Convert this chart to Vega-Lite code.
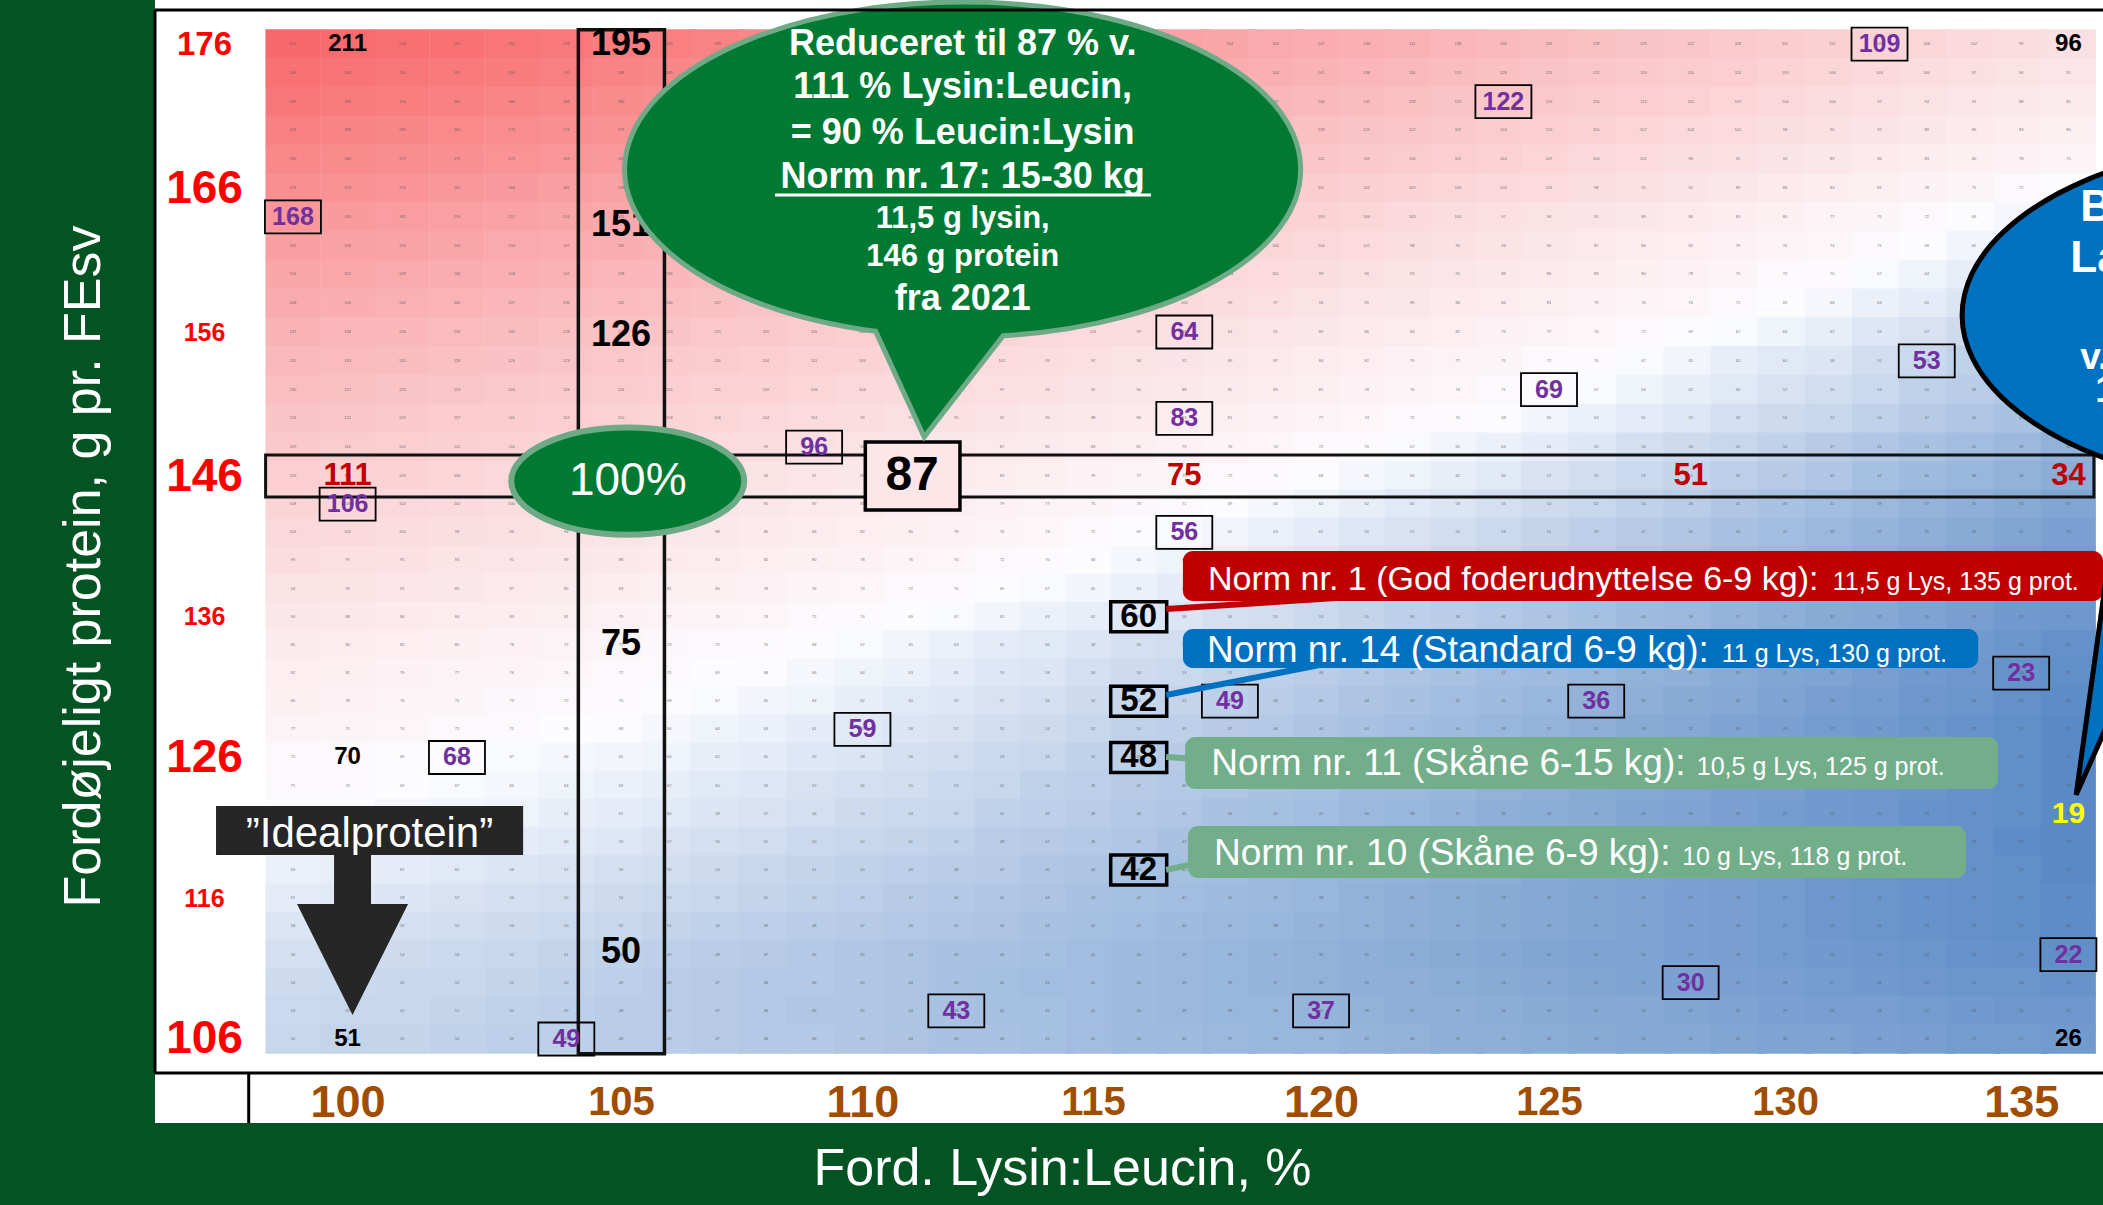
{
"$schema":"https://vega.github.io/schema/vega-lite/v6.json",
"width":1948,"height":1123,"autosize":"none",
"padding":{"left":155,"top":0,"right":0,"bottom":82},
"background":"#045423",
"config":{"view":{"fill":"white","stroke":null},"font":"Liberation Sans"},
"datasets":{
"cells":[
{"l":99,"p":176,"v":214},{"l":100,"p":176,"v":211},{"l":101,"p":176,"v":208},{"l":102,"p":176,"v":205},{"l":103,"p":176,"v":201},{"l":104,"p":176,"v":198},{"l":105,"p":176,"v":195},{"l":106,"p":176,"v":192},{"l":107,"p":176,"v":189},{"l":108,"p":176,"v":185},{"l":109,"p":176,"v":182},{"l":110,"p":176,"v":179},{"l":111,"p":176,"v":176},{"l":112,"p":176,"v":173},{"l":113,"p":176,"v":170},{"l":114,"p":176,"v":166},{"l":115,"p":176,"v":163},{"l":116,"p":176,"v":160},{"l":117,"p":176,"v":157},{"l":118,"p":176,"v":154},{"l":119,"p":176,"v":150},{"l":120,"p":176,"v":147},{"l":121,"p":176,"v":144},{"l":122,"p":176,"v":141},{"l":123,"p":176,"v":138},{"l":124,"p":176,"v":134},{"l":125,"p":176,"v":131},{"l":126,"p":176,"v":128},{"l":127,"p":176,"v":125},{"l":128,"p":176,"v":122},{"l":129,"p":176,"v":118},{"l":130,"p":176,"v":115},{"l":131,"p":176,"v":112},{"l":132,"p":176,"v":109},{"l":133,"p":176,"v":106},{"l":134,"p":176,"v":102},{"l":135,"p":176,"v":99},{"l":136,"p":176,"v":96},
{"l":99,"p":174,"v":206},{"l":100,"p":174,"v":203},{"l":101,"p":174,"v":200},{"l":102,"p":174,"v":197},{"l":103,"p":174,"v":194},{"l":104,"p":174,"v":191},{"l":105,"p":174,"v":188},{"l":106,"p":174,"v":185},{"l":107,"p":174,"v":181},{"l":108,"p":174,"v":178},{"l":109,"p":174,"v":175},{"l":110,"p":174,"v":172},{"l":111,"p":174,"v":169},{"l":112,"p":174,"v":166},{"l":113,"p":174,"v":163},{"l":114,"p":174,"v":160},{"l":115,"p":174,"v":156},{"l":116,"p":174,"v":153},{"l":117,"p":174,"v":150},{"l":118,"p":174,"v":147},{"l":119,"p":174,"v":144},{"l":120,"p":174,"v":141},{"l":121,"p":174,"v":138},{"l":122,"p":174,"v":134},{"l":123,"p":174,"v":131},{"l":124,"p":174,"v":128},{"l":125,"p":174,"v":125},{"l":126,"p":174,"v":122},{"l":127,"p":174,"v":119},{"l":128,"p":174,"v":116},{"l":129,"p":174,"v":113},{"l":130,"p":174,"v":109},{"l":131,"p":174,"v":106},{"l":132,"p":174,"v":103},{"l":133,"p":174,"v":100},{"l":134,"p":174,"v":97},{"l":135,"p":174,"v":94},{"l":136,"p":174,"v":91},
{"l":99,"p":172,"v":199},{"l":100,"p":172,"v":196},{"l":101,"p":172,"v":193},{"l":102,"p":172,"v":190},{"l":103,"p":172,"v":186},{"l":104,"p":172,"v":183},{"l":105,"p":172,"v":180},{"l":106,"p":172,"v":177},{"l":107,"p":172,"v":174},{"l":108,"p":172,"v":171},{"l":109,"p":172,"v":168},{"l":110,"p":172,"v":165},{"l":111,"p":172,"v":162},{"l":112,"p":172,"v":159},{"l":113,"p":172,"v":156},{"l":114,"p":172,"v":153},{"l":115,"p":172,"v":150},{"l":116,"p":172,"v":147},{"l":117,"p":172,"v":143},{"l":118,"p":172,"v":140},{"l":119,"p":172,"v":137},{"l":120,"p":172,"v":134},{"l":121,"p":172,"v":131},{"l":122,"p":172,"v":128},{"l":123,"p":172,"v":125},{"l":124,"p":172,"v":122},{"l":125,"p":172,"v":119},{"l":126,"p":172,"v":116},{"l":127,"p":172,"v":113},{"l":128,"p":172,"v":110},{"l":129,"p":172,"v":107},{"l":130,"p":172,"v":104},{"l":131,"p":172,"v":100},{"l":132,"p":172,"v":97},{"l":133,"p":172,"v":94},{"l":134,"p":172,"v":91},{"l":135,"p":172,"v":88},{"l":136,"p":172,"v":85},
{"l":99,"p":170,"v":191},{"l":100,"p":170,"v":188},{"l":101,"p":170,"v":185},{"l":102,"p":170,"v":182},{"l":103,"p":170,"v":179},{"l":104,"p":170,"v":176},{"l":105,"p":170,"v":173},{"l":106,"p":170,"v":170},{"l":107,"p":170,"v":167},{"l":108,"p":170,"v":164},{"l":109,"p":170,"v":161},{"l":110,"p":170,"v":158},{"l":111,"p":170,"v":155},{"l":112,"p":170,"v":152},{"l":113,"p":170,"v":149},{"l":114,"p":170,"v":146},{"l":115,"p":170,"v":143},{"l":116,"p":170,"v":140},{"l":117,"p":170,"v":137},{"l":118,"p":170,"v":134},{"l":119,"p":170,"v":131},{"l":120,"p":170,"v":128},{"l":121,"p":170,"v":125},{"l":122,"p":170,"v":122},{"l":123,"p":170,"v":119},{"l":124,"p":170,"v":116},{"l":125,"p":170,"v":113},{"l":126,"p":170,"v":110},{"l":127,"p":170,"v":107},{"l":128,"p":170,"v":104},{"l":129,"p":170,"v":101},{"l":130,"p":170,"v":98},{"l":131,"p":170,"v":95},{"l":132,"p":170,"v":92},{"l":133,"p":170,"v":89},{"l":134,"p":170,"v":86},{"l":135,"p":170,"v":83},{"l":136,"p":170,"v":80},
{"l":99,"p":168,"v":183},{"l":100,"p":168,"v":180},{"l":101,"p":168,"v":177},{"l":102,"p":168,"v":175},{"l":103,"p":168,"v":172},{"l":104,"p":168,"v":169},{"l":105,"p":168,"v":166},{"l":106,"p":168,"v":163},{"l":107,"p":168,"v":160},{"l":108,"p":168,"v":157},{"l":109,"p":168,"v":154},{"l":110,"p":168,"v":151},{"l":111,"p":168,"v":148},{"l":112,"p":168,"v":145},{"l":113,"p":168,"v":142},{"l":114,"p":168,"v":139},{"l":115,"p":168,"v":136},{"l":116,"p":168,"v":133},{"l":117,"p":168,"v":130},{"l":118,"p":168,"v":127},{"l":119,"p":168,"v":125},{"l":120,"p":168,"v":122},{"l":121,"p":168,"v":119},{"l":122,"p":168,"v":116},{"l":123,"p":168,"v":113},{"l":124,"p":168,"v":110},{"l":125,"p":168,"v":107},{"l":126,"p":168,"v":104},{"l":127,"p":168,"v":101},{"l":128,"p":168,"v":98},{"l":129,"p":168,"v":95},{"l":130,"p":168,"v":92},{"l":131,"p":168,"v":89},{"l":132,"p":168,"v":86},{"l":133,"p":168,"v":83},{"l":134,"p":168,"v":80},{"l":135,"p":168,"v":78},{"l":136,"p":168,"v":75},
{"l":99,"p":166,"v":176},{"l":100,"p":166,"v":173},{"l":101,"p":166,"v":170},{"l":102,"p":166,"v":167},{"l":103,"p":166,"v":164},{"l":104,"p":166,"v":161},{"l":105,"p":166,"v":158},{"l":106,"p":166,"v":155},{"l":107,"p":166,"v":153},{"l":108,"p":166,"v":150},{"l":109,"p":166,"v":147},{"l":110,"p":166,"v":144},{"l":111,"p":166,"v":141},{"l":112,"p":166,"v":138},{"l":113,"p":166,"v":135},{"l":114,"p":166,"v":132},{"l":115,"p":166,"v":130},{"l":116,"p":166,"v":127},{"l":117,"p":166,"v":124},{"l":118,"p":166,"v":121},{"l":119,"p":166,"v":118},{"l":120,"p":166,"v":115},{"l":121,"p":166,"v":112},{"l":122,"p":166,"v":109},{"l":123,"p":166,"v":106},{"l":124,"p":166,"v":104},{"l":125,"p":166,"v":101},{"l":126,"p":166,"v":98},{"l":127,"p":166,"v":95},{"l":128,"p":166,"v":92},{"l":129,"p":166,"v":89},{"l":130,"p":166,"v":86},{"l":131,"p":166,"v":83},{"l":132,"p":166,"v":81},{"l":133,"p":166,"v":78},{"l":134,"p":166,"v":75},{"l":135,"p":166,"v":72},{"l":136,"p":166,"v":69},
{"l":99,"p":164,"v":168},{"l":100,"p":164,"v":165},{"l":101,"p":164,"v":162},{"l":102,"p":164,"v":159},{"l":103,"p":164,"v":157},{"l":104,"p":164,"v":154},{"l":105,"p":164,"v":151},{"l":106,"p":164,"v":148},{"l":107,"p":164,"v":145},{"l":108,"p":164,"v":143},{"l":109,"p":164,"v":140},{"l":110,"p":164,"v":137},{"l":111,"p":164,"v":134},{"l":112,"p":164,"v":131},{"l":113,"p":164,"v":128},{"l":114,"p":164,"v":126},{"l":115,"p":164,"v":123},{"l":116,"p":164,"v":120},{"l":117,"p":164,"v":117},{"l":118,"p":164,"v":114},{"l":119,"p":164,"v":111},{"l":120,"p":164,"v":109},{"l":121,"p":164,"v":106},{"l":122,"p":164,"v":103},{"l":123,"p":164,"v":100},{"l":124,"p":164,"v":97},{"l":125,"p":164,"v":94},{"l":126,"p":164,"v":92},{"l":127,"p":164,"v":89},{"l":128,"p":164,"v":86},{"l":129,"p":164,"v":83},{"l":130,"p":164,"v":80},{"l":131,"p":164,"v":77},{"l":132,"p":164,"v":75},{"l":133,"p":164,"v":72},{"l":134,"p":164,"v":69},{"l":135,"p":164,"v":66},{"l":136,"p":164,"v":63},
{"l":99,"p":162,"v":161},{"l":100,"p":162,"v":158},{"l":101,"p":162,"v":156},{"l":102,"p":162,"v":153},{"l":103,"p":162,"v":150},{"l":104,"p":162,"v":147},{"l":105,"p":162,"v":145},{"l":106,"p":162,"v":142},{"l":107,"p":162,"v":139},{"l":108,"p":162,"v":137},{"l":109,"p":162,"v":134},{"l":110,"p":162,"v":131},{"l":111,"p":162,"v":128},{"l":112,"p":162,"v":126},{"l":113,"p":162,"v":123},{"l":114,"p":162,"v":120},{"l":115,"p":162,"v":117},{"l":116,"p":162,"v":115},{"l":117,"p":162,"v":112},{"l":118,"p":162,"v":109},{"l":119,"p":162,"v":106},{"l":120,"p":162,"v":104},{"l":121,"p":162,"v":101},{"l":122,"p":162,"v":98},{"l":123,"p":162,"v":95},{"l":124,"p":162,"v":93},{"l":125,"p":162,"v":90},{"l":126,"p":162,"v":87},{"l":127,"p":162,"v":84},{"l":128,"p":162,"v":82},{"l":129,"p":162,"v":79},{"l":130,"p":162,"v":76},{"l":131,"p":162,"v":74},{"l":132,"p":162,"v":71},{"l":133,"p":162,"v":68},{"l":134,"p":162,"v":65},{"l":135,"p":162,"v":63},{"l":136,"p":162,"v":60},
{"l":99,"p":160,"v":154},{"l":100,"p":160,"v":152},{"l":101,"p":160,"v":149},{"l":102,"p":160,"v":146},{"l":103,"p":160,"v":144},{"l":104,"p":160,"v":141},{"l":105,"p":160,"v":138},{"l":106,"p":160,"v":136},{"l":107,"p":160,"v":133},{"l":108,"p":160,"v":131},{"l":109,"p":160,"v":128},{"l":110,"p":160,"v":125},{"l":111,"p":160,"v":123},{"l":112,"p":160,"v":120},{"l":113,"p":160,"v":117},{"l":114,"p":160,"v":115},{"l":115,"p":160,"v":112},{"l":116,"p":160,"v":109},{"l":117,"p":160,"v":107},{"l":118,"p":160,"v":104},{"l":119,"p":160,"v":101},{"l":120,"p":160,"v":99},{"l":121,"p":160,"v":96},{"l":122,"p":160,"v":93},{"l":123,"p":160,"v":91},{"l":124,"p":160,"v":88},{"l":125,"p":160,"v":86},{"l":126,"p":160,"v":83},{"l":127,"p":160,"v":80},{"l":128,"p":160,"v":78},{"l":129,"p":160,"v":75},{"l":130,"p":160,"v":72},{"l":131,"p":160,"v":70},{"l":132,"p":160,"v":67},{"l":133,"p":160,"v":64},{"l":134,"p":160,"v":62},{"l":135,"p":160,"v":59},{"l":136,"p":160,"v":56},
{"l":99,"p":158,"v":148},{"l":100,"p":158,"v":145},{"l":101,"p":158,"v":142},{"l":102,"p":158,"v":140},{"l":103,"p":158,"v":137},{"l":104,"p":158,"v":135},{"l":105,"p":158,"v":132},{"l":106,"p":158,"v":130},{"l":107,"p":158,"v":127},{"l":108,"p":158,"v":125},{"l":109,"p":158,"v":122},{"l":110,"p":158,"v":120},{"l":111,"p":158,"v":117},{"l":112,"p":158,"v":114},{"l":113,"p":158,"v":112},{"l":114,"p":158,"v":109},{"l":115,"p":158,"v":107},{"l":116,"p":158,"v":104},{"l":117,"p":158,"v":102},{"l":118,"p":158,"v":99},{"l":119,"p":158,"v":97},{"l":120,"p":158,"v":94},{"l":121,"p":158,"v":91},{"l":122,"p":158,"v":89},{"l":123,"p":158,"v":86},{"l":124,"p":158,"v":84},{"l":125,"p":158,"v":81},{"l":126,"p":158,"v":79},{"l":127,"p":158,"v":76},{"l":128,"p":158,"v":74},{"l":129,"p":158,"v":71},{"l":130,"p":158,"v":69},{"l":131,"p":158,"v":66},{"l":132,"p":158,"v":63},{"l":133,"p":158,"v":61},{"l":134,"p":158,"v":58},{"l":135,"p":158,"v":56},{"l":136,"p":158,"v":53},
{"l":99,"p":156,"v":141},{"l":100,"p":156,"v":138},{"l":101,"p":156,"v":136},{"l":102,"p":156,"v":133},{"l":103,"p":156,"v":131},{"l":104,"p":156,"v":128},{"l":105,"p":156,"v":126},{"l":106,"p":156,"v":124},{"l":107,"p":156,"v":121},{"l":108,"p":156,"v":119},{"l":109,"p":156,"v":116},{"l":110,"p":156,"v":114},{"l":111,"p":156,"v":111},{"l":112,"p":156,"v":109},{"l":113,"p":156,"v":106},{"l":114,"p":156,"v":104},{"l":115,"p":156,"v":101},{"l":116,"p":156,"v":99},{"l":117,"p":156,"v":96},{"l":118,"p":156,"v":94},{"l":119,"p":156,"v":91},{"l":120,"p":156,"v":89},{"l":121,"p":156,"v":86},{"l":122,"p":156,"v":84},{"l":123,"p":156,"v":82},{"l":124,"p":156,"v":79},{"l":125,"p":156,"v":77},{"l":126,"p":156,"v":74},{"l":127,"p":156,"v":72},{"l":128,"p":156,"v":69},{"l":129,"p":156,"v":67},{"l":130,"p":156,"v":64},{"l":131,"p":156,"v":62},{"l":132,"p":156,"v":59},{"l":133,"p":156,"v":57},{"l":134,"p":156,"v":54},{"l":135,"p":156,"v":52},{"l":136,"p":156,"v":49},
{"l":99,"p":154,"v":135},{"l":100,"p":154,"v":133},{"l":101,"p":154,"v":131},{"l":102,"p":154,"v":128},{"l":103,"p":154,"v":126},{"l":104,"p":154,"v":123},{"l":105,"p":154,"v":121},{"l":106,"p":154,"v":118},{"l":107,"p":154,"v":116},{"l":108,"p":154,"v":114},{"l":109,"p":154,"v":111},{"l":110,"p":154,"v":109},{"l":111,"p":154,"v":106},{"l":112,"p":154,"v":104},{"l":113,"p":154,"v":101},{"l":114,"p":154,"v":99},{"l":115,"p":154,"v":97},{"l":116,"p":154,"v":94},{"l":117,"p":154,"v":92},{"l":118,"p":154,"v":89},{"l":119,"p":154,"v":87},{"l":120,"p":154,"v":84},{"l":121,"p":154,"v":82},{"l":122,"p":154,"v":79},{"l":123,"p":154,"v":77},{"l":124,"p":154,"v":75},{"l":125,"p":154,"v":72},{"l":126,"p":154,"v":70},{"l":127,"p":154,"v":67},{"l":128,"p":154,"v":65},{"l":129,"p":154,"v":62},{"l":130,"p":154,"v":60},{"l":131,"p":154,"v":58},{"l":132,"p":154,"v":55},{"l":133,"p":154,"v":53},{"l":134,"p":154,"v":50},{"l":135,"p":154,"v":48},{"l":136,"p":154,"v":45},
{"l":99,"p":152,"v":130},{"l":100,"p":152,"v":127},{"l":101,"p":152,"v":125},{"l":102,"p":152,"v":123},{"l":103,"p":152,"v":120},{"l":104,"p":152,"v":118},{"l":105,"p":152,"v":116},{"l":106,"p":152,"v":113},{"l":107,"p":152,"v":111},{"l":108,"p":152,"v":109},{"l":109,"p":152,"v":106},{"l":110,"p":152,"v":104},{"l":111,"p":152,"v":102},{"l":112,"p":152,"v":99},{"l":113,"p":152,"v":97},{"l":114,"p":152,"v":95},{"l":115,"p":152,"v":92},{"l":116,"p":152,"v":90},{"l":117,"p":152,"v":88},{"l":118,"p":152,"v":85},{"l":119,"p":152,"v":83},{"l":120,"p":152,"v":81},{"l":121,"p":152,"v":78},{"l":122,"p":152,"v":76},{"l":123,"p":152,"v":74},{"l":124,"p":152,"v":71},{"l":125,"p":152,"v":69},{"l":126,"p":152,"v":67},{"l":127,"p":152,"v":64},{"l":128,"p":152,"v":62},{"l":129,"p":152,"v":60},{"l":130,"p":152,"v":57},{"l":131,"p":152,"v":55},{"l":132,"p":152,"v":53},{"l":133,"p":152,"v":50},{"l":134,"p":152,"v":48},{"l":135,"p":152,"v":46},{"l":136,"p":152,"v":43},
{"l":99,"p":150,"v":124},{"l":100,"p":150,"v":122},{"l":101,"p":150,"v":119},{"l":102,"p":150,"v":117},{"l":103,"p":150,"v":115},{"l":104,"p":150,"v":113},{"l":105,"p":150,"v":110},{"l":106,"p":150,"v":108},{"l":107,"p":150,"v":106},{"l":108,"p":150,"v":104},{"l":109,"p":150,"v":101},{"l":110,"p":150,"v":99},{"l":111,"p":150,"v":97},{"l":112,"p":150,"v":95},{"l":113,"p":150,"v":92},{"l":114,"p":150,"v":90},{"l":115,"p":150,"v":88},{"l":116,"p":150,"v":86},{"l":117,"p":150,"v":83},{"l":118,"p":150,"v":81},{"l":119,"p":150,"v":79},{"l":120,"p":150,"v":77},{"l":121,"p":150,"v":74},{"l":122,"p":150,"v":72},{"l":123,"p":150,"v":70},{"l":124,"p":150,"v":68},{"l":125,"p":150,"v":65},{"l":126,"p":150,"v":63},{"l":127,"p":150,"v":61},{"l":128,"p":150,"v":59},{"l":129,"p":150,"v":56},{"l":130,"p":150,"v":54},{"l":131,"p":150,"v":52},{"l":132,"p":150,"v":50},{"l":133,"p":150,"v":47},{"l":134,"p":150,"v":45},{"l":135,"p":150,"v":43},{"l":136,"p":150,"v":41},
{"l":99,"p":148,"v":119},{"l":100,"p":148,"v":116},{"l":101,"p":148,"v":114},{"l":102,"p":148,"v":112},{"l":103,"p":148,"v":110},{"l":104,"p":148,"v":107},{"l":105,"p":148,"v":105},{"l":106,"p":148,"v":103},{"l":107,"p":148,"v":101},{"l":108,"p":148,"v":99},{"l":109,"p":148,"v":96},{"l":110,"p":148,"v":94},{"l":111,"p":148,"v":92},{"l":112,"p":148,"v":90},{"l":113,"p":148,"v":87},{"l":114,"p":148,"v":85},{"l":115,"p":148,"v":83},{"l":116,"p":148,"v":81},{"l":117,"p":148,"v":79},{"l":118,"p":148,"v":76},{"l":119,"p":148,"v":74},{"l":120,"p":148,"v":72},{"l":121,"p":148,"v":70},{"l":122,"p":148,"v":67},{"l":123,"p":148,"v":65},{"l":124,"p":148,"v":63},{"l":125,"p":148,"v":61},{"l":126,"p":148,"v":59},{"l":127,"p":148,"v":56},{"l":128,"p":148,"v":54},{"l":129,"p":148,"v":52},{"l":130,"p":148,"v":50},{"l":131,"p":148,"v":47},{"l":132,"p":148,"v":45},{"l":133,"p":148,"v":43},{"l":134,"p":148,"v":41},{"l":135,"p":148,"v":39},{"l":136,"p":148,"v":36},
{"l":99,"p":146,"v":113},{"l":100,"p":146,"v":111},{"l":101,"p":146,"v":109},{"l":102,"p":146,"v":106},{"l":103,"p":146,"v":104},{"l":104,"p":146,"v":102},{"l":105,"p":146,"v":100},{"l":106,"p":146,"v":98},{"l":107,"p":146,"v":96},{"l":108,"p":146,"v":94},{"l":109,"p":146,"v":91},{"l":110,"p":146,"v":89},{"l":111,"p":146,"v":87},{"l":112,"p":146,"v":85},{"l":113,"p":146,"v":83},{"l":114,"p":146,"v":81},{"l":115,"p":146,"v":79},{"l":116,"p":146,"v":77},{"l":117,"p":146,"v":75},{"l":118,"p":146,"v":72},{"l":119,"p":146,"v":70},{"l":120,"p":146,"v":68},{"l":121,"p":146,"v":66},{"l":122,"p":146,"v":64},{"l":123,"p":146,"v":62},{"l":124,"p":146,"v":60},{"l":125,"p":146,"v":57},{"l":126,"p":146,"v":55},{"l":127,"p":146,"v":53},{"l":128,"p":146,"v":51},{"l":129,"p":146,"v":49},{"l":130,"p":146,"v":47},{"l":131,"p":146,"v":45},{"l":132,"p":146,"v":42},{"l":133,"p":146,"v":40},{"l":134,"p":146,"v":38},{"l":135,"p":146,"v":36},{"l":136,"p":146,"v":34},
{"l":99,"p":144,"v":108},{"l":100,"p":144,"v":106},{"l":101,"p":144,"v":104},{"l":102,"p":144,"v":102},{"l":103,"p":144,"v":100},{"l":104,"p":144,"v":98},{"l":105,"p":144,"v":96},{"l":106,"p":144,"v":94},{"l":107,"p":144,"v":92},{"l":108,"p":144,"v":90},{"l":109,"p":144,"v":87},{"l":110,"p":144,"v":85},{"l":111,"p":144,"v":83},{"l":112,"p":144,"v":81},{"l":113,"p":144,"v":79},{"l":114,"p":144,"v":77},{"l":115,"p":144,"v":75},{"l":116,"p":144,"v":73},{"l":117,"p":144,"v":71},{"l":118,"p":144,"v":69},{"l":119,"p":144,"v":66},{"l":120,"p":144,"v":64},{"l":121,"p":144,"v":62},{"l":122,"p":144,"v":60},{"l":123,"p":144,"v":58},{"l":124,"p":144,"v":56},{"l":125,"p":144,"v":54},{"l":126,"p":144,"v":52},{"l":127,"p":144,"v":50},{"l":128,"p":144,"v":48},{"l":129,"p":144,"v":45},{"l":130,"p":144,"v":43},{"l":131,"p":144,"v":41},{"l":132,"p":144,"v":39},{"l":133,"p":144,"v":37},{"l":134,"p":144,"v":35},{"l":135,"p":144,"v":33},{"l":136,"p":144,"v":31},
{"l":99,"p":142,"v":104},{"l":100,"p":142,"v":102},{"l":101,"p":142,"v":100},{"l":102,"p":142,"v":98},{"l":103,"p":142,"v":96},{"l":104,"p":142,"v":94},{"l":105,"p":142,"v":92},{"l":106,"p":142,"v":90},{"l":107,"p":142,"v":88},{"l":108,"p":142,"v":86},{"l":109,"p":142,"v":84},{"l":110,"p":142,"v":82},{"l":111,"p":142,"v":80},{"l":112,"p":142,"v":78},{"l":113,"p":142,"v":76},{"l":114,"p":142,"v":74},{"l":115,"p":142,"v":72},{"l":116,"p":142,"v":69},{"l":117,"p":142,"v":67},{"l":118,"p":142,"v":65},{"l":119,"p":142,"v":63},{"l":120,"p":142,"v":61},{"l":121,"p":142,"v":59},{"l":122,"p":142,"v":57},{"l":123,"p":142,"v":55},{"l":124,"p":142,"v":53},{"l":125,"p":142,"v":51},{"l":126,"p":142,"v":49},{"l":127,"p":142,"v":47},{"l":128,"p":142,"v":45},{"l":129,"p":142,"v":43},{"l":130,"p":142,"v":41},{"l":131,"p":142,"v":39},{"l":132,"p":142,"v":37},{"l":133,"p":142,"v":35},{"l":134,"p":142,"v":33},{"l":135,"p":142,"v":31},{"l":136,"p":142,"v":29},
{"l":99,"p":140,"v":99},{"l":100,"p":140,"v":97},{"l":101,"p":140,"v":95},{"l":102,"p":140,"v":93},{"l":103,"p":140,"v":91},{"l":104,"p":140,"v":89},{"l":105,"p":140,"v":88},{"l":106,"p":140,"v":86},{"l":107,"p":140,"v":84},{"l":108,"p":140,"v":82},{"l":109,"p":140,"v":80},{"l":110,"p":140,"v":78},{"l":111,"p":140,"v":76},{"l":112,"p":140,"v":74},{"l":113,"p":140,"v":72},{"l":114,"p":140,"v":70},{"l":115,"p":140,"v":68},{"l":116,"p":140,"v":66},{"l":117,"p":140,"v":64},{"l":118,"p":140,"v":62},{"l":119,"p":140,"v":60},{"l":120,"p":140,"v":58},{"l":121,"p":140,"v":56},{"l":122,"p":140,"v":55},{"l":123,"p":140,"v":53},{"l":124,"p":140,"v":51},{"l":125,"p":140,"v":49},{"l":126,"p":140,"v":47},{"l":127,"p":140,"v":45},{"l":128,"p":140,"v":43},{"l":129,"p":140,"v":41},{"l":130,"p":140,"v":39},{"l":131,"p":140,"v":37},{"l":132,"p":140,"v":35},{"l":133,"p":140,"v":33},{"l":134,"p":140,"v":31},{"l":135,"p":140,"v":29},{"l":136,"p":140,"v":27},
{"l":99,"p":138,"v":94},{"l":100,"p":138,"v":93},{"l":101,"p":138,"v":91},{"l":102,"p":138,"v":89},{"l":103,"p":138,"v":87},{"l":104,"p":138,"v":85},{"l":105,"p":138,"v":83},{"l":106,"p":138,"v":81},{"l":107,"p":138,"v":80},{"l":108,"p":138,"v":78},{"l":109,"p":138,"v":76},{"l":110,"p":138,"v":74},{"l":111,"p":138,"v":72},{"l":112,"p":138,"v":70},{"l":113,"p":138,"v":69},{"l":114,"p":138,"v":67},{"l":115,"p":138,"v":65},{"l":116,"p":138,"v":63},{"l":117,"p":138,"v":61},{"l":118,"p":138,"v":59},{"l":119,"p":138,"v":57},{"l":120,"p":138,"v":56},{"l":121,"p":138,"v":54},{"l":122,"p":138,"v":52},{"l":123,"p":138,"v":50},{"l":124,"p":138,"v":48},{"l":125,"p":138,"v":46},{"l":126,"p":138,"v":44},{"l":127,"p":138,"v":43},{"l":128,"p":138,"v":41},{"l":129,"p":138,"v":39},{"l":130,"p":138,"v":37},{"l":131,"p":138,"v":35},{"l":132,"p":138,"v":33},{"l":133,"p":138,"v":32},{"l":134,"p":138,"v":30},{"l":135,"p":138,"v":28},{"l":136,"p":138,"v":26},
{"l":99,"p":136,"v":90},{"l":100,"p":136,"v":88},{"l":101,"p":136,"v":86},{"l":102,"p":136,"v":84},{"l":103,"p":136,"v":83},{"l":104,"p":136,"v":81},{"l":105,"p":136,"v":79},{"l":106,"p":136,"v":77},{"l":107,"p":136,"v":76},{"l":108,"p":136,"v":74},{"l":109,"p":136,"v":72},{"l":110,"p":136,"v":70},{"l":111,"p":136,"v":69},{"l":112,"p":136,"v":67},{"l":113,"p":136,"v":65},{"l":114,"p":136,"v":63},{"l":115,"p":136,"v":62},{"l":116,"p":136,"v":60},{"l":117,"p":136,"v":58},{"l":118,"p":136,"v":56},{"l":119,"p":136,"v":55},{"l":120,"p":136,"v":53},{"l":121,"p":136,"v":51},{"l":122,"p":136,"v":49},{"l":123,"p":136,"v":48},{"l":124,"p":136,"v":46},{"l":125,"p":136,"v":44},{"l":126,"p":136,"v":42},{"l":127,"p":136,"v":40},{"l":128,"p":136,"v":39},{"l":129,"p":136,"v":37},{"l":130,"p":136,"v":35},{"l":131,"p":136,"v":33},{"l":132,"p":136,"v":32},{"l":133,"p":136,"v":30},{"l":134,"p":136,"v":28},{"l":135,"p":136,"v":26},{"l":136,"p":136,"v":25},
{"l":99,"p":134,"v":85},{"l":100,"p":134,"v":84},{"l":101,"p":134,"v":82},{"l":102,"p":134,"v":80},{"l":103,"p":134,"v":78},{"l":104,"p":134,"v":77},{"l":105,"p":134,"v":75},{"l":106,"p":134,"v":73},{"l":107,"p":134,"v":72},{"l":108,"p":134,"v":70},{"l":109,"p":134,"v":68},{"l":110,"p":134,"v":67},{"l":111,"p":134,"v":65},{"l":112,"p":134,"v":63},{"l":113,"p":134,"v":61},{"l":114,"p":134,"v":60},{"l":115,"p":134,"v":58},{"l":116,"p":134,"v":56},{"l":117,"p":134,"v":55},{"l":118,"p":134,"v":53},{"l":119,"p":134,"v":51},{"l":120,"p":134,"v":50},{"l":121,"p":134,"v":48},{"l":122,"p":134,"v":46},{"l":123,"p":134,"v":44},{"l":124,"p":134,"v":43},{"l":125,"p":134,"v":41},{"l":126,"p":134,"v":39},{"l":127,"p":134,"v":38},{"l":128,"p":134,"v":36},{"l":129,"p":134,"v":34},{"l":130,"p":134,"v":33},{"l":131,"p":134,"v":31},{"l":132,"p":134,"v":29},{"l":133,"p":134,"v":27},{"l":134,"p":134,"v":26},{"l":135,"p":134,"v":24},{"l":136,"p":134,"v":22},
{"l":99,"p":132,"v":82},{"l":100,"p":132,"v":81},{"l":101,"p":132,"v":79},{"l":102,"p":132,"v":77},{"l":103,"p":132,"v":76},{"l":104,"p":132,"v":74},{"l":105,"p":132,"v":72},{"l":106,"p":132,"v":71},{"l":107,"p":132,"v":69},{"l":108,"p":132,"v":68},{"l":109,"p":132,"v":66},{"l":110,"p":132,"v":64},{"l":111,"p":132,"v":63},{"l":112,"p":132,"v":61},{"l":113,"p":132,"v":59},{"l":114,"p":132,"v":58},{"l":115,"p":132,"v":56},{"l":116,"p":132,"v":54},{"l":117,"p":132,"v":53},{"l":118,"p":132,"v":51},{"l":119,"p":132,"v":49},{"l":120,"p":132,"v":48},{"l":121,"p":132,"v":46},{"l":122,"p":132,"v":44},{"l":123,"p":132,"v":43},{"l":124,"p":132,"v":41},{"l":125,"p":132,"v":40},{"l":126,"p":132,"v":38},{"l":127,"p":132,"v":36},{"l":128,"p":132,"v":35},{"l":129,"p":132,"v":33},{"l":130,"p":132,"v":31},{"l":131,"p":132,"v":30},{"l":132,"p":132,"v":28},{"l":133,"p":132,"v":26},{"l":134,"p":132,"v":25},{"l":135,"p":132,"v":23},{"l":136,"p":132,"v":21},
{"l":99,"p":130,"v":80},{"l":100,"p":130,"v":78},{"l":101,"p":130,"v":76},{"l":102,"p":130,"v":75},{"l":103,"p":130,"v":73},{"l":104,"p":130,"v":72},{"l":105,"p":130,"v":70},{"l":106,"p":130,"v":68},{"l":107,"p":130,"v":67},{"l":108,"p":130,"v":65},{"l":109,"p":130,"v":64},{"l":110,"p":130,"v":62},{"l":111,"p":130,"v":60},{"l":112,"p":130,"v":59},{"l":113,"p":130,"v":57},{"l":114,"p":130,"v":56},{"l":115,"p":130,"v":54},{"l":116,"p":130,"v":52},{"l":117,"p":130,"v":51},{"l":118,"p":130,"v":49},{"l":119,"p":130,"v":48},{"l":120,"p":130,"v":46},{"l":121,"p":130,"v":44},{"l":122,"p":130,"v":43},{"l":123,"p":130,"v":41},{"l":124,"p":130,"v":40},{"l":125,"p":130,"v":38},{"l":126,"p":130,"v":36},{"l":127,"p":130,"v":35},{"l":128,"p":130,"v":33},{"l":129,"p":130,"v":32},{"l":130,"p":130,"v":30},{"l":131,"p":130,"v":28},{"l":132,"p":130,"v":27},{"l":133,"p":130,"v":25},{"l":134,"p":130,"v":24},{"l":135,"p":130,"v":22},{"l":136,"p":130,"v":20},
{"l":99,"p":128,"v":77},{"l":100,"p":128,"v":75},{"l":101,"p":128,"v":74},{"l":102,"p":128,"v":72},{"l":103,"p":128,"v":71},{"l":104,"p":128,"v":69},{"l":105,"p":128,"v":68},{"l":106,"p":128,"v":66},{"l":107,"p":128,"v":64},{"l":108,"p":128,"v":63},{"l":109,"p":128,"v":61},{"l":110,"p":128,"v":60},{"l":111,"p":128,"v":58},{"l":112,"p":128,"v":57},{"l":113,"p":128,"v":55},{"l":114,"p":128,"v":54},{"l":115,"p":128,"v":52},{"l":116,"p":128,"v":50},{"l":117,"p":128,"v":49},{"l":118,"p":128,"v":47},{"l":119,"p":128,"v":46},{"l":120,"p":128,"v":44},{"l":121,"p":128,"v":43},{"l":122,"p":128,"v":41},{"l":123,"p":128,"v":40},{"l":124,"p":128,"v":38},{"l":125,"p":128,"v":37},{"l":126,"p":128,"v":35},{"l":127,"p":128,"v":33},{"l":128,"p":128,"v":32},{"l":129,"p":128,"v":30},{"l":130,"p":128,"v":29},{"l":131,"p":128,"v":27},{"l":132,"p":128,"v":26},{"l":133,"p":128,"v":24},{"l":134,"p":128,"v":23},{"l":135,"p":128,"v":21},{"l":136,"p":128,"v":19},
{"l":99,"p":126,"v":72},{"l":100,"p":126,"v":70},{"l":101,"p":126,"v":69},{"l":102,"p":126,"v":68},{"l":103,"p":126,"v":67},{"l":104,"p":126,"v":66},{"l":105,"p":126,"v":65},{"l":106,"p":126,"v":64},{"l":107,"p":126,"v":62},{"l":108,"p":126,"v":61},{"l":109,"p":126,"v":59},{"l":110,"p":126,"v":58},{"l":111,"p":126,"v":56},{"l":112,"p":126,"v":55},{"l":113,"p":126,"v":53},{"l":114,"p":126,"v":52},{"l":115,"p":126,"v":50},{"l":116,"p":126,"v":49},{"l":117,"p":126,"v":47},{"l":118,"p":126,"v":46},{"l":119,"p":126,"v":44},{"l":120,"p":126,"v":43},{"l":121,"p":126,"v":41},{"l":122,"p":126,"v":40},{"l":123,"p":126,"v":39},{"l":124,"p":126,"v":37},{"l":125,"p":126,"v":36},{"l":126,"p":126,"v":34},{"l":127,"p":126,"v":33},{"l":128,"p":126,"v":31},{"l":129,"p":126,"v":30},{"l":130,"p":126,"v":28},{"l":131,"p":126,"v":27},{"l":132,"p":126,"v":25},{"l":133,"p":126,"v":24},{"l":134,"p":126,"v":22},{"l":135,"p":126,"v":21},{"l":136,"p":126,"v":19},
{"l":99,"p":124,"v":71},{"l":100,"p":124,"v":70},{"l":101,"p":124,"v":69},{"l":102,"p":124,"v":67},{"l":103,"p":124,"v":66},{"l":104,"p":124,"v":64},{"l":105,"p":124,"v":63},{"l":106,"p":124,"v":62},{"l":107,"p":124,"v":60},{"l":108,"p":124,"v":59},{"l":109,"p":124,"v":57},{"l":110,"p":124,"v":56},{"l":111,"p":124,"v":55},{"l":112,"p":124,"v":53},{"l":113,"p":124,"v":52},{"l":114,"p":124,"v":50},{"l":115,"p":124,"v":49},{"l":116,"p":124,"v":47},{"l":117,"p":124,"v":46},{"l":118,"p":124,"v":45},{"l":119,"p":124,"v":43},{"l":120,"p":124,"v":42},{"l":121,"p":124,"v":40},{"l":122,"p":124,"v":39},{"l":123,"p":124,"v":38},{"l":124,"p":124,"v":36},{"l":125,"p":124,"v":35},{"l":126,"p":124,"v":33},{"l":127,"p":124,"v":32},{"l":128,"p":124,"v":31},{"l":129,"p":124,"v":29},{"l":130,"p":124,"v":28},{"l":131,"p":124,"v":26},{"l":132,"p":124,"v":25},{"l":133,"p":124,"v":24},{"l":134,"p":124,"v":22},{"l":135,"p":124,"v":21},{"l":136,"p":124,"v":19},
{"l":99,"p":122,"v":69},{"l":100,"p":122,"v":68},{"l":101,"p":122,"v":66},{"l":102,"p":122,"v":65},{"l":103,"p":122,"v":64},{"l":104,"p":122,"v":62},{"l":105,"p":122,"v":61},{"l":106,"p":122,"v":60},{"l":107,"p":122,"v":58},{"l":108,"p":122,"v":57},{"l":109,"p":122,"v":56},{"l":110,"p":122,"v":54},{"l":111,"p":122,"v":53},{"l":112,"p":122,"v":52},{"l":113,"p":122,"v":50},{"l":114,"p":122,"v":49},{"l":115,"p":122,"v":48},{"l":116,"p":122,"v":46},{"l":117,"p":122,"v":45},{"l":118,"p":122,"v":43},{"l":119,"p":122,"v":42},{"l":120,"p":122,"v":41},{"l":121,"p":122,"v":39},{"l":122,"p":122,"v":38},{"l":123,"p":122,"v":37},{"l":124,"p":122,"v":35},{"l":125,"p":122,"v":34},{"l":126,"p":122,"v":33},{"l":127,"p":122,"v":31},{"l":128,"p":122,"v":30},{"l":129,"p":122,"v":29},{"l":130,"p":122,"v":27},{"l":131,"p":122,"v":26},{"l":132,"p":122,"v":25},{"l":133,"p":122,"v":23},{"l":134,"p":122,"v":22},{"l":135,"p":122,"v":21},{"l":136,"p":122,"v":19},
{"l":99,"p":120,"v":66},{"l":100,"p":120,"v":65},{"l":101,"p":120,"v":64},{"l":102,"p":120,"v":62},{"l":103,"p":120,"v":61},{"l":104,"p":120,"v":60},{"l":105,"p":120,"v":59},{"l":106,"p":120,"v":57},{"l":107,"p":120,"v":56},{"l":108,"p":120,"v":55},{"l":109,"p":120,"v":53},{"l":110,"p":120,"v":52},{"l":111,"p":120,"v":51},{"l":112,"p":120,"v":50},{"l":113,"p":120,"v":48},{"l":114,"p":120,"v":47},{"l":115,"p":120,"v":46},{"l":116,"p":120,"v":45},{"l":117,"p":120,"v":43},{"l":118,"p":120,"v":42},{"l":119,"p":120,"v":41},{"l":120,"p":120,"v":39},{"l":121,"p":120,"v":38},{"l":122,"p":120,"v":37},{"l":123,"p":120,"v":36},{"l":124,"p":120,"v":34},{"l":125,"p":120,"v":33},{"l":126,"p":120,"v":32},{"l":127,"p":120,"v":31},{"l":128,"p":120,"v":29},{"l":129,"p":120,"v":28},{"l":130,"p":120,"v":27},{"l":131,"p":120,"v":25},{"l":132,"p":120,"v":24},{"l":133,"p":120,"v":23},{"l":134,"p":120,"v":22},{"l":135,"p":120,"v":20},{"l":136,"p":120,"v":19},
{"l":99,"p":118,"v":63},{"l":100,"p":118,"v":62},{"l":101,"p":118,"v":61},{"l":102,"p":118,"v":60},{"l":103,"p":118,"v":58},{"l":104,"p":118,"v":57},{"l":105,"p":118,"v":56},{"l":106,"p":118,"v":55},{"l":107,"p":118,"v":54},{"l":108,"p":118,"v":52},{"l":109,"p":118,"v":51},{"l":110,"p":118,"v":50},{"l":111,"p":118,"v":49},{"l":112,"p":118,"v":48},{"l":113,"p":118,"v":47},{"l":114,"p":118,"v":45},{"l":115,"p":118,"v":44},{"l":116,"p":118,"v":43},{"l":117,"p":118,"v":42},{"l":118,"p":118,"v":41},{"l":119,"p":118,"v":39},{"l":120,"p":118,"v":38},{"l":121,"p":118,"v":37},{"l":122,"p":118,"v":36},{"l":123,"p":118,"v":35},{"l":124,"p":118,"v":34},{"l":125,"p":118,"v":32},{"l":126,"p":118,"v":31},{"l":127,"p":118,"v":30},{"l":128,"p":118,"v":29},{"l":129,"p":118,"v":28},{"l":130,"p":118,"v":27},{"l":131,"p":118,"v":25},{"l":132,"p":118,"v":24},{"l":133,"p":118,"v":23},{"l":134,"p":118,"v":22},{"l":135,"p":118,"v":21},{"l":136,"p":118,"v":19},
{"l":99,"p":116,"v":61},{"l":100,"p":116,"v":60},{"l":101,"p":116,"v":58},{"l":102,"p":116,"v":57},{"l":103,"p":116,"v":56},{"l":104,"p":116,"v":55},{"l":105,"p":116,"v":54},{"l":106,"p":116,"v":53},{"l":107,"p":116,"v":52},{"l":108,"p":116,"v":51},{"l":109,"p":116,"v":50},{"l":110,"p":116,"v":49},{"l":111,"p":116,"v":47},{"l":112,"p":116,"v":46},{"l":113,"p":116,"v":45},{"l":114,"p":116,"v":44},{"l":115,"p":116,"v":43},{"l":116,"p":116,"v":42},{"l":117,"p":116,"v":41},{"l":118,"p":116,"v":40},{"l":119,"p":116,"v":39},{"l":120,"p":116,"v":38},{"l":121,"p":116,"v":36},{"l":122,"p":116,"v":35},{"l":123,"p":116,"v":34},{"l":124,"p":116,"v":33},{"l":125,"p":116,"v":32},{"l":126,"p":116,"v":31},{"l":127,"p":116,"v":30},{"l":128,"p":116,"v":29},{"l":129,"p":116,"v":28},{"l":130,"p":116,"v":27},{"l":131,"p":116,"v":25},{"l":132,"p":116,"v":24},{"l":133,"p":116,"v":23},{"l":134,"p":116,"v":22},{"l":135,"p":116,"v":21},{"l":136,"p":116,"v":20},
{"l":99,"p":114,"v":58},{"l":100,"p":114,"v":57},{"l":101,"p":114,"v":56},{"l":102,"p":114,"v":55},{"l":103,"p":114,"v":54},{"l":104,"p":114,"v":53},{"l":105,"p":114,"v":52},{"l":106,"p":114,"v":51},{"l":107,"p":114,"v":50},{"l":108,"p":114,"v":49},{"l":109,"p":114,"v":48},{"l":110,"p":114,"v":47},{"l":111,"p":114,"v":46},{"l":112,"p":114,"v":45},{"l":113,"p":114,"v":44},{"l":114,"p":114,"v":43},{"l":115,"p":114,"v":42},{"l":116,"p":114,"v":41},{"l":117,"p":114,"v":40},{"l":118,"p":114,"v":39},{"l":119,"p":114,"v":38},{"l":120,"p":114,"v":37},{"l":121,"p":114,"v":36},{"l":122,"p":114,"v":35},{"l":123,"p":114,"v":34},{"l":124,"p":114,"v":33},{"l":125,"p":114,"v":32},{"l":126,"p":114,"v":31},{"l":127,"p":114,"v":30},{"l":128,"p":114,"v":29},{"l":129,"p":114,"v":28},{"l":130,"p":114,"v":27},{"l":131,"p":114,"v":25},{"l":132,"p":114,"v":24},{"l":133,"p":114,"v":23},{"l":134,"p":114,"v":22},{"l":135,"p":114,"v":21},{"l":136,"p":114,"v":20},
{"l":99,"p":112,"v":56},{"l":100,"p":112,"v":55},{"l":101,"p":112,"v":54},{"l":102,"p":112,"v":53},{"l":103,"p":112,"v":52},{"l":104,"p":112,"v":51},{"l":105,"p":112,"v":50},{"l":106,"p":112,"v":49},{"l":107,"p":112,"v":48},{"l":108,"p":112,"v":47},{"l":109,"p":112,"v":46},{"l":110,"p":112,"v":45},{"l":111,"p":112,"v":44},{"l":112,"p":112,"v":43},{"l":113,"p":112,"v":43},{"l":114,"p":112,"v":42},{"l":115,"p":112,"v":41},{"l":116,"p":112,"v":40},{"l":117,"p":112,"v":39},{"l":118,"p":112,"v":38},{"l":119,"p":112,"v":37},{"l":120,"p":112,"v":36},{"l":121,"p":112,"v":35},{"l":122,"p":112,"v":34},{"l":123,"p":112,"v":33},{"l":124,"p":112,"v":32},{"l":125,"p":112,"v":31},{"l":126,"p":112,"v":30},{"l":127,"p":112,"v":30},{"l":128,"p":112,"v":29},{"l":129,"p":112,"v":28},{"l":130,"p":112,"v":27},{"l":131,"p":112,"v":26},{"l":132,"p":112,"v":25},{"l":133,"p":112,"v":24},{"l":134,"p":112,"v":23},{"l":135,"p":112,"v":22},{"l":136,"p":112,"v":21},
{"l":99,"p":110,"v":54},{"l":100,"p":110,"v":53},{"l":101,"p":110,"v":52},{"l":102,"p":110,"v":52},{"l":103,"p":110,"v":51},{"l":104,"p":110,"v":50},{"l":105,"p":110,"v":49},{"l":106,"p":110,"v":48},{"l":107,"p":110,"v":47},{"l":108,"p":110,"v":46},{"l":109,"p":110,"v":46},{"l":110,"p":110,"v":45},{"l":111,"p":110,"v":44},{"l":112,"p":110,"v":43},{"l":113,"p":110,"v":42},{"l":114,"p":110,"v":41},{"l":115,"p":110,"v":41},{"l":116,"p":110,"v":40},{"l":117,"p":110,"v":39},{"l":118,"p":110,"v":38},{"l":119,"p":110,"v":37},{"l":120,"p":110,"v":36},{"l":121,"p":110,"v":35},{"l":122,"p":110,"v":35},{"l":123,"p":110,"v":34},{"l":124,"p":110,"v":33},{"l":125,"p":110,"v":32},{"l":126,"p":110,"v":31},{"l":127,"p":110,"v":30},{"l":128,"p":110,"v":29},{"l":129,"p":110,"v":29},{"l":130,"p":110,"v":28},{"l":131,"p":110,"v":27},{"l":132,"p":110,"v":26},{"l":133,"p":110,"v":25},{"l":134,"p":110,"v":24},{"l":135,"p":110,"v":24},{"l":136,"p":110,"v":23},
{"l":99,"p":108,"v":53},{"l":100,"p":108,"v":52},{"l":101,"p":108,"v":52},{"l":102,"p":108,"v":51},{"l":103,"p":108,"v":50},{"l":104,"p":108,"v":49},{"l":105,"p":108,"v":48},{"l":106,"p":108,"v":48},{"l":107,"p":108,"v":47},{"l":108,"p":108,"v":46},{"l":109,"p":108,"v":45},{"l":110,"p":108,"v":45},{"l":111,"p":108,"v":44},{"l":112,"p":108,"v":43},{"l":113,"p":108,"v":42},{"l":114,"p":108,"v":42},{"l":115,"p":108,"v":41},{"l":116,"p":108,"v":40},{"l":117,"p":108,"v":39},{"l":118,"p":108,"v":38},{"l":119,"p":108,"v":38},{"l":120,"p":108,"v":37},{"l":121,"p":108,"v":36},{"l":122,"p":108,"v":35},{"l":123,"p":108,"v":35},{"l":124,"p":108,"v":34},{"l":125,"p":108,"v":33},{"l":126,"p":108,"v":32},{"l":127,"p":108,"v":32},{"l":128,"p":108,"v":31},{"l":129,"p":108,"v":30},{"l":130,"p":108,"v":29},{"l":131,"p":108,"v":28},{"l":132,"p":108,"v":28},{"l":133,"p":108,"v":27},{"l":134,"p":108,"v":26},{"l":135,"p":108,"v":25},{"l":136,"p":108,"v":25},
{"l":99,"p":106,"v":52},{"l":100,"p":106,"v":51},{"l":101,"p":106,"v":51},{"l":102,"p":106,"v":50},{"l":103,"p":106,"v":49},{"l":104,"p":106,"v":49},{"l":105,"p":106,"v":48},{"l":106,"p":106,"v":48},{"l":107,"p":106,"v":47},{"l":108,"p":106,"v":46},{"l":109,"p":106,"v":46},{"l":110,"p":106,"v":45},{"l":111,"p":106,"v":44},{"l":112,"p":106,"v":43},{"l":113,"p":106,"v":43},{"l":114,"p":106,"v":42},{"l":115,"p":106,"v":41},{"l":116,"p":106,"v":40},{"l":117,"p":106,"v":40},{"l":118,"p":106,"v":39},{"l":119,"p":106,"v":38},{"l":120,"p":106,"v":38},{"l":121,"p":106,"v":37},{"l":122,"p":106,"v":36},{"l":123,"p":106,"v":35},{"l":124,"p":106,"v":35},{"l":125,"p":106,"v":34},{"l":126,"p":106,"v":33},{"l":127,"p":106,"v":32},{"l":128,"p":106,"v":32},{"l":129,"p":106,"v":31},{"l":130,"p":106,"v":30},{"l":131,"p":106,"v":30},{"l":132,"p":106,"v":29},{"l":133,"p":106,"v":28},{"l":134,"p":106,"v":27},{"l":135,"p":106,"v":27},{"l":136,"p":106,"v":26}
],
"band":[{"l":98.5,"l2":136.54,"p":144.51,"p2":147.46}],
"colbox":[{"l":104.22,"l2":105.9,"p":104.95,"p2":177.0}],
"col105":[{"l":105,"p":176.0,"t":"195"},{"l":105,"p":163.43,"t":"151"},{"l":105,"p":155.8,"t":"126"},{"l":105,"p":134.06,"t":"75"},{"l":105,"p":112.18,"t":"50"}],
"blacklab":[{"l":100,"p":176,"t":"211"},{"l":136,"p":176,"t":"96"},{"l":100,"p":126,"t":"70"},{"l":100,"p":106,"t":"51"},{"l":136,"p":106,"t":"26"}],
"red146":[{"l":100,"p":146,"t":"111"},{"l":117,"p":146,"t":"75"},{"l":128,"p":146,"t":"51"},{"l":136,"p":146,"t":"34"}],
"purple":[{"l":99,"p":164,"t":"168"},{"l":100,"p":144,"t":"106"},{"l":109,"p":148,"t":"96"},{"l":117,"p":156,"t":"64"},{"l":117,"p":150,"t":"83"},{"l":117,"p":142,"t":"56"},{"l":124,"p":172,"t":"122"},{"l":132,"p":176,"t":"109"},{"l":125,"p":152,"t":"69"},{"l":133,"p":154,"t":"53"},{"l":110,"p":128,"t":"59"},{"l":118,"p":130,"t":"49"},{"l":126,"p":130,"t":"36"},{"l":135,"p":132,"t":"23"},{"l":102,"p":126,"t":"68"},{"l":112,"p":108,"t":"43"},{"l":120,"p":108,"t":"37"},{"l":128,"p":110,"t":"30"},{"l":136,"p":112,"t":"22"},{"l":104,"p":106,"t":"49"}],
"black116":[{"l":116,"p":136,"t":"60"},{"l":116,"p":130,"t":"52"},{"l":116,"p":126,"t":"48"},{"l":116,"p":118,"t":"42"}],
"yellow":[{"l":136,"p":122,"t":"19"}],
"pointers":[{"n":"1","l":116.6,"p":136.55,"l2":121.7,"p2":137.62},{"n":"14","l":116.6,"p":130.44,"l2":120.64,"p2":133.0},{"n":"11","l":116.6,"p":126.04,"l2":117.6,"p2":125.82},{"n":"10","l":116.6,"p":118.01,"l2":117.6,"p2":118.72}],
"norms":[{"n":"1","l":116.97,"l2":136.73,"p":137.12,"p2":140.67},{"n":"14","l":116.97,"l2":134.09,"p":132.36,"p2":135.13},{"n":"11","l":117.02,"l2":134.51,"p":123.76,"p2":127.46},{"n":"10","l":117.08,"l2":133.83,"p":117.44,"p2":121.13}],
"normhead1":[{"l":117.52,"p":137.9,"t":"Norm nr. 1 (God foderudnyttelse 6-9 kg):"}],
"normhead":[{"l":117.5,"p":132.79,"t":"Norm nr. 14 (Standard 6-9 kg):"},{"l":117.59,"p":124.76,"t":"Norm nr. 11 (Skåne 6-15 kg):"},{"l":117.65,"p":118.36,"t":"Norm nr. 10 (Skåne 6-9 kg):"}],
"normsub":[{"l":131.01,"p":137.9,"t":"11,5 g Lys, 135 g prot."},{"l":128.66,"p":132.79,"t":"11 g Lys, 130 g prot."},{"l":128.13,"p":124.76,"t":"10,5 g Lys, 125 g prot."},{"l":127.82,"p":118.36,"t":"10 g Lys, 118 g prot."}],
"box87":[{"l":110.06,"l2":112.08,"p":143.58,"p2":148.37}],
"text87":[{"l":111.03,"p":146,"t":"87"}],
"ell100":[{"l":105.14,"p":145.64,"t":"100%"}],
"bubble":[{"l":112.14,"p":167.29}],
"bubblebig":[{"l":112.14,"p":176.0,"t":"Reduceret til 87 % v."},{"l":112.14,"p":173.02,"t":"111 % Lysin:Leucin,"},{"l":112.14,"p":169.82,"t":"= 90 % Leucin:Lysin"},{"l":112.14,"p":166.77,"t":"Norm nr. 17: 15-30 kg"},{"l":112.14,"p":158.3,"t":"fra 2021"}],
"bubblesmall":[{"l":112.14,"p":163.85,"t":"11,5 g lysin,"},{"l":112.14,"p":161.21,"t":"146 g protein"}],
"underline":[{"l":108.19,"l2":116.27,"p":165.52,"p2":165.52}],
"idealbox":[{"l":97.59,"l2":103.21,"p":119.07,"p2":122.55}],
"idealtext":[{"l":100.4,"p":119.64,"t":"”Idealprotein”"}],
"arrow":[{"l":100.09,"p":113.39}],
"blueell":[{"l":141.02,"p":157.19}],
"bluebig":[{"l":136.25,"p":164.62,"t":"B"},{"l":136.04,"p":161.07,"t":"La"}],
"bluesmall":[{"l":136.25,"p":154.2,"t":"v."},{"l":136.57,"p":151.91,"t":"1"}],
"frame":[{"l":96.47,"l2":136.73,"p":178.37,"p2":178.37},{"l":96.47,"l2":96.47,"p":103.58,"p2":178.37},{"l":96.47,"l2":136.73,"p":103.58,"p2":103.58},{"l":98.19,"l2":98.19,"p":100.03,"p2":103.58}]
},
"encoding":{
"x":{"field":"l","type":"quantitative",
 "scale":{"domain":[96.47,98.5,105,111,117,125,136.5,136.73],"range":[0,110.6,466,755.7,1029.3,1394,1937,1948],"nice":false,"zero":false},
 "axis":{"values":[100,105,110,115,120,125,130,135],"offset":-50,"domain":false,"ticks":false,"tickSize":0,"grid":false,"labelPadding":29,"labelBaseline":"middle","labelAlign":"center","labelColor":"#A04D00","labelFont":"Liberation Sans","labelFontWeight":"bold","labelFontSize":{"condition":{"test":"datum.value == 100 || datum.value == 110 || datum.value == 120 || datum.value == 135","value":45},"value":40},"labelFlush":false,"labelOverlap":false,"labelBound":false,
 "title":"Ford. Lysin:Leucin, %","titleColor":"white","titleFont":"Liberation Sans","titleFontSize":52,"titleFontWeight":"normal","titleX":907,"titleY":95,"titleAlign":"center","titleBaseline":"middle","titleAngle":0}},
"y":{"field":"p","type":"quantitative",
 "scale":{"domain":[100.03,146,179.06],"range":[1123,476,0],"nice":false,"zero":false},
 "axis":{"values":[106,116,126,136,146,156,166,176],"offset":-110.6,"domain":false,"ticks":false,"tickSize":0,"grid":false,"labelPadding":61.6,"labelAlign":"center","labelBaseline":"middle","labelColor":"#FF0000","labelFont":"Liberation Sans","labelFontWeight":"bold","labelFontSize":{"condition":[{"test":"datum.value == 176","value":33},{"test":"datum.value == 106 || datum.value == 126 || datum.value == 146 || datum.value == 166","value":46}],"value":25},"labelFlush":false,"labelOverlap":false,"labelBound":false,
 "title":"Fordøjeligt protein, g pr. FEsv","titleColor":"white","titleFont":"Liberation Sans","titleFontSize":52,"titleFontWeight":"normal","titleX":-182.6,"titleY":566,"titleAngle":-90,"titleAlign":"center","titleBaseline":"middle"}}
},
"layer":[
{"data":{"name":"cells"},"mark":{"type":"rect","width":55,"height":29.5,"align":"center","baseline":"middle"},
 "encoding":{"color":{"field":"v","type":"quantitative","scale":{"domain":[19,68,214],"range":["#5A8AC6","#FCFCFF","#F8696B"],"interpolate":"rgb"},"legend":null}}},
{"data":{"name":"cells"},"mark":{"type":"text","fontSize":4,"color":"#555555","opacity":0.8},"encoding":{"text":{"field":"v","type":"quantitative"}}},
{"data":{"name":"band"},"mark":{"type":"rect","fillOpacity":0,"stroke":"#111111","strokeWidth":3},"encoding":{"x2":{"field":"l2"},"y2":{"field":"p2"}}},
{"data":{"name":"colbox"},"mark":{"type":"rect","fillOpacity":0,"stroke":"#111111","strokeWidth":3.5},"encoding":{"x2":{"field":"l2"},"y2":{"field":"p2"}}},
{"data":{"name":"col105"},"mark":{"type":"text","font":"Liberation Sans","fontWeight":"bold","fontSize":36,"color":"#000000","align":"center","baseline":"middle"},"encoding":{"text":{"field":"t"}}},
{"data":{"name":"blacklab"},"mark":{"type":"text","font":"Liberation Sans","fontWeight":"bold","fontSize":24,"color":"#000000","align":"center","baseline":"middle"},"encoding":{"text":{"field":"t"}}},
{"data":{"name":"red146"},"mark":{"type":"text","font":"Liberation Sans","fontWeight":"bold","fontSize":31,"color":"#C00000","align":"center","baseline":"middle"},"encoding":{"text":{"field":"t"}}},
{"data":{"name":"purple"},"mark":{"type":"rect","width":56,"height":33,"align":"center","baseline":"middle","fillOpacity":0,"stroke":"#000000","strokeWidth":1.8}},
{"data":{"name":"purple"},"mark":{"type":"text","font":"Liberation Sans","fontWeight":"bold","fontSize":25,"color":"#7030A0","align":"center","baseline":"middle"},"encoding":{"text":{"field":"t"}}},
{"data":{"name":"black116"},"mark":{"type":"rect","width":56,"height":30,"align":"center","baseline":"middle","fillOpacity":0,"stroke":"#000000","strokeWidth":3.5}},
{"data":{"name":"black116"},"mark":{"type":"text","font":"Liberation Sans","fontWeight":"bold","fontSize":33,"color":"#000000","align":"center","baseline":"middle"},"encoding":{"text":{"field":"t"}}},
{"data":{"name":"yellow"},"mark":{"type":"text","font":"Liberation Sans","fontWeight":"bold","fontSize":30,"color":"#FFFF00","align":"center","baseline":"middle"},"encoding":{"text":{"field":"t"}}},
{"data":{"name":"pointers"},"mark":{"type":"rule","strokeWidth":6},"encoding":{"x2":{"field":"l2"},"y2":{"field":"p2"},"stroke":{"field":"n","type":"nominal","scale":{"domain":["1","14","11","10"],"range":["#C00000","#0070C0","#72AE8A","#72AE8A"]},"legend":null}}},
{"data":{"name":"norms"},"mark":{"type":"rect","cornerRadius":10},"encoding":{"x2":{"field":"l2"},"y2":{"field":"p2"},"fill":{"field":"n","type":"nominal","scale":{"domain":["1","14","11","10"],"range":["#C00000","#0070C0","#72AE8A","#72AE8A"]},"legend":null}}},
{"data":{"name":"normhead1"},"mark":{"type":"text","font":"Liberation Sans","fontSize":34,"color":"white","align":"left","baseline":"alphabetic"},"encoding":{"text":{"field":"t"}}},
{"data":{"name":"normhead"},"mark":{"type":"text","font":"Liberation Sans","fontSize":37,"color":"white","align":"left","baseline":"alphabetic"},"encoding":{"text":{"field":"t"}}},
{"data":{"name":"normsub"},"mark":{"type":"text","font":"Liberation Sans","fontSize":25,"color":"white","align":"left","baseline":"alphabetic"},"encoding":{"text":{"field":"t"}}},
{"data":{"name":"box87"},"mark":{"type":"rect","fill":"#FCE6E8","stroke":"#000000","strokeWidth":3.5},"encoding":{"x2":{"field":"l2"},"y2":{"field":"p2"}}},
{"data":{"name":"text87"},"mark":{"type":"text","font":"Liberation Sans","fontWeight":"bold","fontSize":48,"color":"#000000","align":"center","baseline":"middle"},"encoding":{"text":{"field":"t"}}},
{"data":{"name":"ell100"},"mark":{"type":"point","shape":"M-1,0A1,0.46 0 1 1 1,0A1,0.46 0 1 1 -1,0Z","size":54289,"filled":true,"fill":"#007A33","stroke":"#6DAA85","strokeWidth":6,"opacity":1}},
{"data":{"name":"ell100"},"mark":{"type":"text","font":"Liberation Sans","fontSize":46,"color":"white","align":"center","baseline":"middle"},"encoding":{"text":{"field":"t"}}},
{"data":{"name":"bubble"},"mark":{"type":"point","shape":"M-0.2574,0.4789A1,0.4956 0 1 1 0.1198,0.492L-0.1139,0.7914Z","size":456976,"filled":true,"fill":"#007A33","stroke":"#6DAA85","strokeWidth":5,"opacity":1}},
{"data":{"name":"bubblebig"},"mark":{"type":"text","font":"Liberation Sans","fontWeight":"bold","fontSize":36,"color":"white","align":"center","baseline":"middle"},"encoding":{"text":{"field":"t"}}},
{"data":{"name":"bubblesmall"},"mark":{"type":"text","font":"Liberation Sans","fontWeight":"bold","fontSize":31,"color":"white","align":"center","baseline":"middle"},"encoding":{"text":{"field":"t"}}},
{"data":{"name":"underline"},"mark":{"type":"rule","color":"white","strokeWidth":3},"encoding":{"x2":{"field":"l2"},"y2":{"field":"p2"}}},
{"data":{"name":"idealbox"},"mark":{"type":"rect","fill":"#262626"},"encoding":{"x2":{"field":"l2"},"y2":{"field":"p2"}}},
{"data":{"name":"idealtext"},"mark":{"type":"text","font":"Liberation Sans","fontSize":42,"color":"white","align":"center","baseline":"alphabetic"},"encoding":{"text":{"field":"t"}}},
{"data":{"name":"arrow"},"mark":{"type":"point","shape":"M-0.231,-1L0.231,-1L0.231,-0.3875L0.694,-0.3875L0,1L-0.694,-0.3875L-0.231,-0.3875Z","size":25600,"filled":true,"fill":"#262626","strokeWidth":0,"opacity":1}},
{"data":{"name":"blueell"},"mark":{"type":"point","shape":"M-0.5338,0.4275A1,0.507 0 1 1 -0.2713,0.4883L-0.6648,1.375Z","size":487204,"filled":true,"fill":"#0070C0","stroke":"#000000","strokeWidth":5,"opacity":1,"clip":false}},
{"data":{"name":"bluebig"},"mark":{"type":"text","font":"Liberation Sans","fontWeight":"bold","fontSize":44,"color":"white","align":"left","baseline":"middle"},"encoding":{"text":{"field":"t"}}},
{"data":{"name":"bluesmall"},"mark":{"type":"text","font":"Liberation Sans","fontWeight":"bold","fontSize":37,"color":"white","align":"left","baseline":"middle"},"encoding":{"text":{"field":"t"}}},
{"data":{"name":"frame"},"mark":{"type":"rule","color":"#000000","strokeWidth":3},"encoding":{"x2":{"field":"l2"},"y2":{"field":"p2"}}}
]
}
